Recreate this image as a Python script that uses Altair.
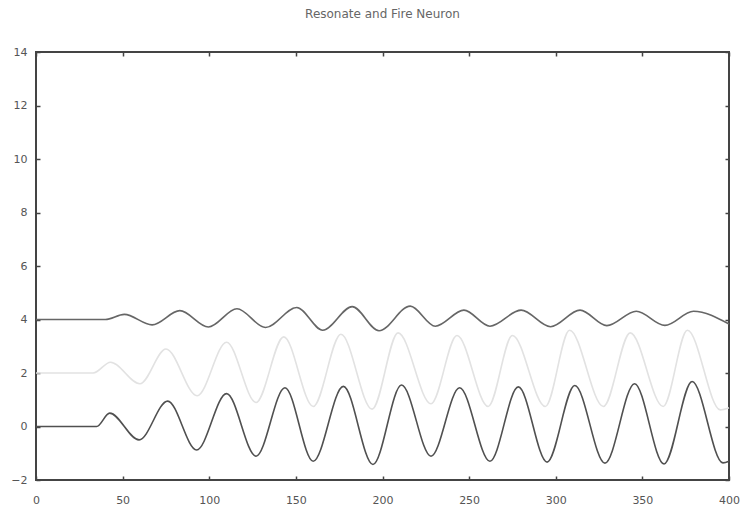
import altair as alt
import pandas as pd

# Membrane traces of the resonate-and-fire neuron (offset vertically for display)
bottom_t = [0, 35, 42.5, 59.5, 76, 92.7, 110, 127, 143.7, 160, 177.4, 194.5, 211, 228,
            244.5, 262, 278.4, 295, 311, 328.4, 345.5, 362.5, 378.7, 396.5, 400]
bottom_v = [0, 0, 0.5, -0.5, 0.95, -0.88, 1.23, -1.11, 1.45, -1.3, 1.5, -1.42, 1.55, -1.11,
            1.45, -1.3, 1.48, -1.33, 1.53, -1.37, 1.6, -1.4, 1.68, -1.36, -1.3]

mid_t = [0, 33, 43, 60, 75, 93, 110, 127, 143, 160, 176, 194, 209, 228,
         243, 261, 275, 294, 308, 327.5, 343, 362, 376, 395, 400]
mid_v = [2, 2, 2.4, 1.6, 2.9, 1.15, 3.15, 0.9, 3.35, 0.75, 3.45, 0.65, 3.5, 0.85,
         3.4, 0.75, 3.4, 0.75, 3.6, 0.75, 3.5, 0.75, 3.6, 0.62, 0.7]

top_t = [0, 40, 51, 67, 83, 99.5, 116, 132.5, 150.5, 165.5, 182.5, 198, 216, 230.5,
         247, 262, 280, 297, 314, 329.5, 346.5, 363, 379.5, 400]
top_v = [4, 4, 4.19, 3.8, 4.33, 3.72, 4.4, 3.7, 4.45, 3.6, 4.48, 3.58, 4.5, 3.75,
         4.35, 3.75, 4.35, 3.73, 4.35, 3.77, 4.31, 3.78, 4.31, 3.83]

trace_names = ["mid", "bottom", "top"]
trace_colors = ["#e2e2e2", "#505050", "#666666"]

x_ticks = [0, 50, 100, 150, 200, 250, 300, 350, 400]
y_ticks = [-2, 0, 2, 4, 6, 8, 10, 12, 14]

rows = []
for name, ts, vs in [("mid", mid_t, mid_v), ("bottom", bottom_t, bottom_v), ("top", top_t, top_v)]:
    for t, v in zip(ts, vs):
        rows.append({"t": t, "v": v, "trace": name})
df = pd.DataFrame(rows)

x_scale = alt.Scale(domain=[0, 400], nice=False, zero=False)
y_scale = alt.Scale(domain=[-2, 14], nice=False, zero=False)

label_style = dict(labelFont="DejaVu Sans", labelFontSize=11, labelColor="#555555",
                   labelFlush=False, labelOverlap=False,
                   tickColor="#444444", tickWidth=1.5, tickSize=4, offset=-4,
                   domain=False, grid=False, title=None)

lines = alt.Chart(df).mark_line(interpolate="monotone", strokeWidth=1.6).encode(
    x=alt.X("t:Q", scale=x_scale,
            axis=alt.Axis(orient="bottom", values=x_ticks, labelPadding=14, **label_style)),
    y=alt.Y("v:Q", scale=y_scale,
            axis=alt.Axis(orient="left", values=y_ticks, labelPadding=9, **label_style)),
    color=alt.Color("trace:N", scale=alt.Scale(domain=trace_names, range=trace_colors), legend=None),
)

# mirrored tick marks on the top and right edges of the frame
mirror = alt.Chart(df).mark_line(opacity=0).encode(
    x=alt.X("t:Q", scale=x_scale,
            axis=alt.Axis(orient="top", values=x_ticks, labels=False, **label_style)),
    y=alt.Y("v:Q", scale=y_scale,
            axis=alt.Axis(orient="right", values=y_ticks, labels=False, **label_style)),
    detail="trace:N",
)

chart = alt.layer(mirror, lines).resolve_axis(x="independent", y="independent").properties(
    width=693,
    height=428,
    title=alt.TitleParams("Resonate and Fire Neuron", anchor="middle", frame="group",
                          baseline="middle", offset=20, fontSize=12, fontWeight="normal",
                          font="DejaVu Sans", color="#666666"),
    autosize=alt.AutoSizeParams(type="none"),
    padding={"left": 36, "top": 52, "right": 12, "bottom": 32},
).configure(background="white").configure_view(stroke="#444444", strokeWidth=2)

chart.save("out.html", embed_options={"renderer": "svg", "actions": False})
